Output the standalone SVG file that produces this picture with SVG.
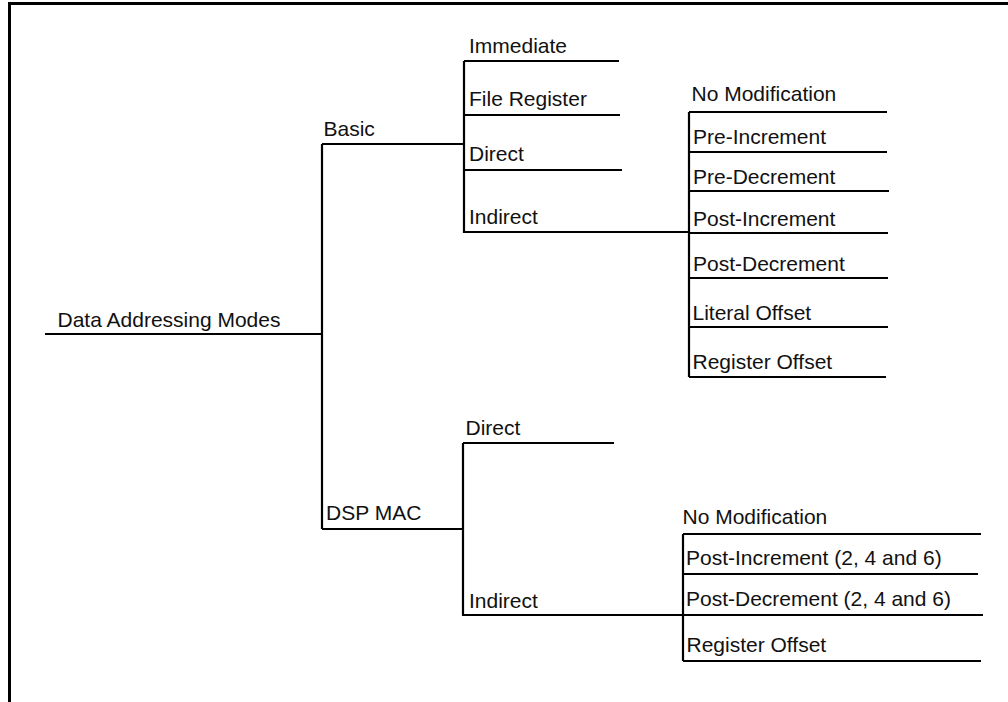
<svg xmlns="http://www.w3.org/2000/svg" width="1008" height="702" viewBox="0 0 1008 702">
<style>
text{font-family:"Liberation Sans",Arial,sans-serif;font-size:21px;fill:#111}
.ln{fill:none;stroke:#000;stroke-width:2.2}
.fr{fill:none;stroke:#000;stroke-width:3}
</style>
<rect width="1008" height="702" fill="#fff"/>
<path class="fr" d="M9.5 702 V3.5 H1008"/>
<g id="connectors">
<path class="ln" d="M45 334 H322 M322 144 V529 M322 144 H464 M464 61 V233 M464 61 H619 M464 115 H620 M464 170 H622 M464 232 H689"/>
<path class="ln" d="M689 112 V377 M689 112 H887 M689 152 H887 M689 191 H889 M689 233 H888 M689 278 H888 M689 327 H888 M689 377 H886"/>
<path class="ln" d="M322 529 H463 M463 443 V615 M463 443 H614 M462 615 H683 M683 534 V661 M683 534 H981 M683 574 H978 M683 615 H983 M683 661 H981"/>
</g>
<g id="root"><text x="57.5" y="326.5">Data Addressing Modes</text></g>
<g id="basic"><text x="323.5" y="135.5">Basic</text></g>
<g id="immediate"><text x="469" y="52.5">Immediate</text></g>
<g id="file-register"><text x="469" y="105.5">File Register</text></g>
<g id="basic-direct"><text x="469" y="160.5">Direct</text></g>
<g id="basic-indirect"><text x="469" y="224">Indirect</text></g>
<g id="b-nomod"><text x="691.5" y="100.5">No Modification</text></g>
<g id="b-preinc"><text x="693" y="143.5">Pre-Increment</text></g>
<g id="b-predec"><text x="693" y="183.5">Pre-Decrement</text></g>
<g id="b-postinc"><text x="693" y="225.5">Post-Increment</text></g>
<g id="b-postdec"><text x="693" y="271">Post-Decrement</text></g>
<g id="b-literal"><text x="692.5" y="320">Literal Offset</text></g>
<g id="b-register"><text x="692.5" y="368.5">Register Offset</text></g>
<g id="dsp-mac"><text x="326" y="520">DSP MAC</text></g>
<g id="dsp-direct"><text x="465.5" y="435">Direct</text></g>
<g id="dsp-indirect"><text x="469" y="607.5">Indirect</text></g>
<g id="d-nomod"><text x="682.5" y="523.5">No Modification</text></g>
<g id="d-postinc"><text x="686" y="565">Post-Increment (2, 4 and 6)</text></g>
<g id="d-postdec"><text x="686" y="606">Post-Decrement (2, 4 and 6)</text></g>
<g id="d-register"><text x="686.5" y="652">Register Offset</text></g>
</svg>
